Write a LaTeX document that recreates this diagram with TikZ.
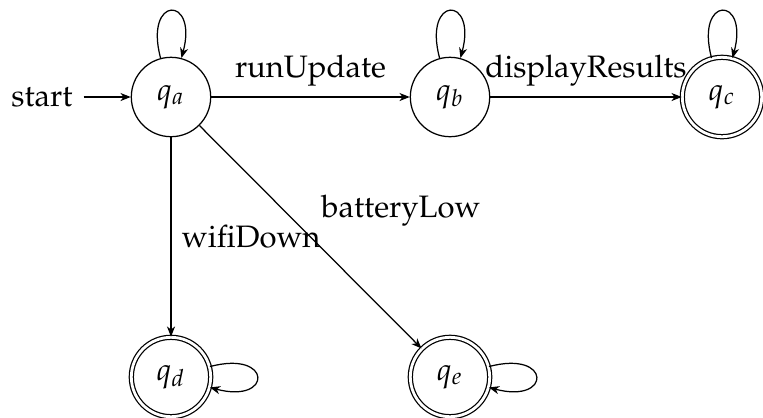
\documentclass[tikz,border=0pt]{standalone}
\usepackage[T1]{fontenc}
\usepackage{mathpazo}
\usetikzlibrary{arrows.meta}
\begin{document}
\begin{tikzpicture}[x=0.3225pt,y=-0.3225pt,
  >={Stealth[length=3.3pt,width=2.6pt,inset=1pt]},
  stateshape/.style={draw,circle,minimum size=25.6pt,inner sep=0pt},
  acceptshape/.style={stateshape,double,double distance=0.9pt},
  edgelbl/.style={auto},
  selfloop/.style={min distance=5mm,looseness=8}]
\useasboundingbox (0,0) rectangle (763,417);
\node[stateshape] (qa) at (171,97) {$q_a$};
\node[stateshape] (qb) at (450,97) {$q_b$};
\node[acceptshape] (qc) at (722,97) {$q_c$};
\node[acceptshape] (qd) at (171,377) {$q_d$};
\node[acceptshape] (qe) at (450,377) {$q_e$};
\node (start) at (42,97) {start};
\draw[->] (start) -- (qa);
\draw[->] (qa) to[out=105,in=75,selfloop] (qa);
\draw[->] (qb) to[out=105,in=75,selfloop] (qb);
\draw[->] (qc) to[out=105,in=75,selfloop] (qc);
\draw[->] (qd) to[out=15,in=-15,selfloop] (qd);
\draw[->] (qe) to[out=15,in=-15,selfloop] (qe);
\draw[->] (qa) -- node[edgelbl] {runUpdate} (qb);
\draw[->] (qb) -- node[edgelbl] {displayResults} (qc);
\draw[->] (qa) -- node[edgelbl,anchor=west] {wifiDown} (qd);
\draw[->] (qa) -- node[edgelbl,anchor=south west,pos=0.5] {batteryLow} (qe);
\end{tikzpicture}
\end{document}
